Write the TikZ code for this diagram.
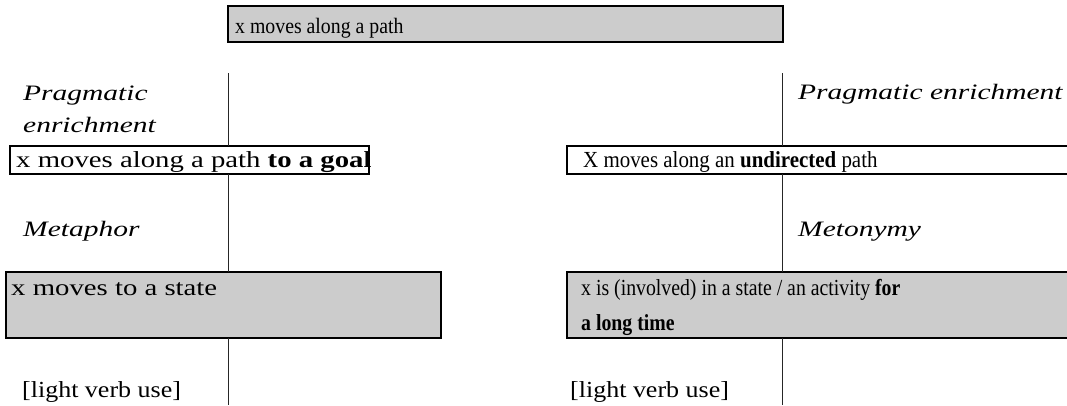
\documentclass[tikz,border=0pt]{standalone}
\usepackage{fontspec}
\setmainfont{Liberation Serif}
\newfontfamily\fwide[FakeStretch=1.25]{Liberation Serif}
\newfontfamily\fnarrow[FakeStretch=0.91]{Liberation Serif}
\newfontfamily\fnarrower[FakeStretch=0.86]{Liberation Serif}
\newfontfamily\fmid[FakeStretch=1.13]{Liberation Serif}
\newfontfamily\fital[FakeStretch=1.34]{Liberation Serif}
\newfontfamily\ftop[FakeStretch=0.9]{Liberation Serif}
\begin{document}
\begin{tikzpicture}[x=1pt,y=-1pt,
  box/.style={draw=black,line width=1.3pt,inner sep=0pt},
  gbox/.style={box,fill=black!20},
  vline/.style={draw=black!85,line width=1pt},
  txt/.style={anchor=base west,inner sep=0pt},
  wtxt/.style={txt,font=\fontsize{23}{27}\fwide},
  ntxt/.style={txt,font=\fontsize{23}{27}\fnarrow},
  nntxt/.style={txt,font=\fontsize{23}{27}\fnarrower},
  mtxt/.style={txt,font=\fontsize{23}{27}\fmid},
  itxt/.style={txt,font=\fontsize{22}{26}\fital\itshape}]
\useasboundingbox (0,0) rectangle (1067,405);
% boxes
\draw[gbox] (228,6) rectangle (783,42);
\draw[box] (10,146) rectangle (369,174);
\draw[box] (567,146) rectangle (1075,174);
\draw[gbox] (6,272) rectangle (441,338);
\draw[gbox] (567,272) rectangle (1075,338);
% texts
\node[txt,font=\fontsize{22}{26}\ftop] (t0) at (235,33) {x moves along a path};
\node[wtxt] (t1) at (16,167) {x moves along a path \textbf{to a goal}};
\node[ntxt] (t2) at (583,167) {X moves along an \textbf{undirected} path};
\node[wtxt] (t3) at (11,295) {x moves to a state};
\node[nntxt] (t4) at (581,295) {x is (involved) in a state / an activity \textbf{for}};
\node[nntxt] (t5) at (581,330) {\textbf{a long time}};
\node[itxt] (p1) at (23,100) {Pragmatic};
\node[itxt] (p2) at (23,132) {enrichment};
\node[itxt] (p3) at (798,99) {Pragmatic enrichment};
\node[itxt] (m1) at (23,236) {Metaphor};
\node[itxt] (m2) at (798,236) {Metonymy};
\node[mtxt] (l1) at (22,397) {[light verb use]};
\node[mtxt] (l2) at (570,397) {[light verb use]};
% lines
\coordinate (a0) at (228,73); \coordinate (a1) at (228,146);
\coordinate (a2) at (228,174); \coordinate (a3) at (228,272);
\coordinate (a4) at (228,338); \coordinate (a5) at (228,405);
\coordinate (b0) at (782,73); \coordinate (b1) at (782,146);
\coordinate (b2) at (782,174); \coordinate (b3) at (782,272);
\coordinate (b4) at (782,338); \coordinate (b5) at (782,405);
\draw[vline] (a0) -- (a1) (a2) -- (a3) (a4) -- (a5);
\draw[vline] (b0) -- (b1) (b2) -- (b3) (b4) -- (b5);
\end{tikzpicture}
\end{document}
